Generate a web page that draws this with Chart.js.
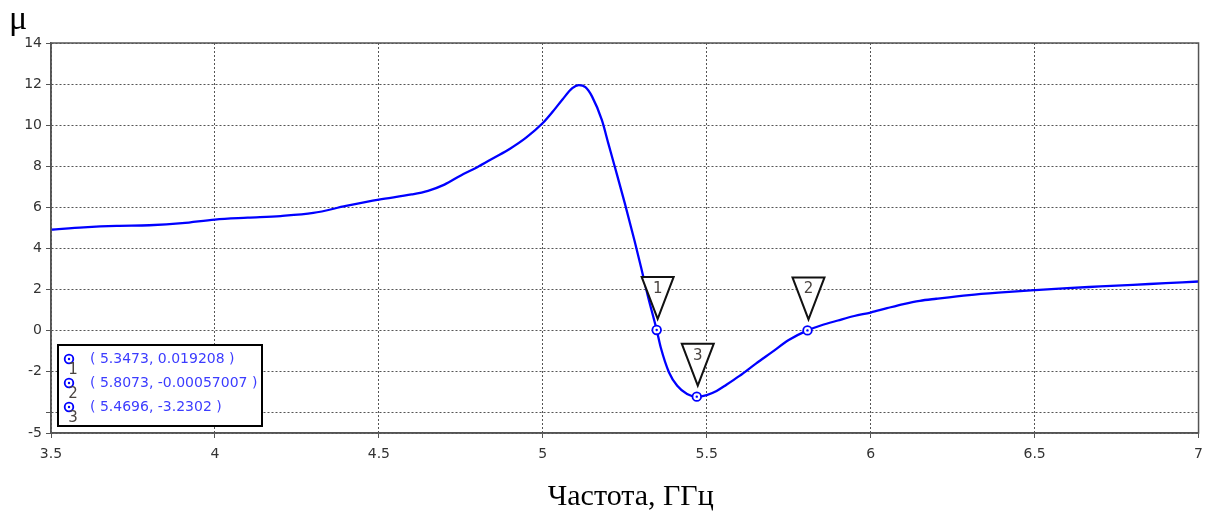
<!DOCTYPE html>
<html>
<head>
<meta charset="utf-8">
<script src="https://cdn.jsdelivr.net/npm/chart.js@4"></script>
<style>
  html, body { margin: 0; padding: 0; background: #fff; }
</style>
</head>
<body>
<canvas id="muChart" width="1211" height="515"></canvas>
<script>
// Данные кривой
const freq = [3.50, 3.60, 3.70, 3.80, 3.90, 4.00, 4.10, 4.20, 4.30, 4.40,
              4.50, 4.60, 4.65, 4.70, 4.75, 4.80, 4.85, 4.90, 4.95, 5.00,
              5.03, 5.06, 5.09, 5.11, 5.13, 5.15, 5.18, 5.20, 5.22, 5.25,
              5.28, 5.30, 5.32, 5.3473, 5.36, 5.385, 5.41, 5.44, 5.4696, 5.50,
              5.53, 5.56, 5.60, 5.65, 5.70, 5.75, 5.8073, 5.85, 5.90, 5.95,
              6.00, 6.05, 6.10, 6.15, 6.20, 6.30, 6.40, 6.50, 6.60, 6.70,
              6.80, 6.90, 7.00];
const mu = [4.91, 5.02, 5.09, 5.12, 5.22, 5.40, 5.49, 5.57, 5.72, 6.06,
            6.37, 6.62, 6.80, 7.10, 7.55, 7.95, 8.40, 8.85, 9.40, 10.10,
            10.65, 11.25, 11.80, 11.95, 11.85, 11.40, 10.25, 9.10, 7.95, 6.20,
            4.35, 3.05, 1.70, 0.019, -0.85, -2.05, -2.70, -3.10, -3.23, -3.15,
            -2.95, -2.65, -2.22, -1.62, -1.05, -0.47, 0.00, 0.25, 0.48, 0.70,
            0.87, 1.08, 1.28, 1.44, 1.54, 1.72, 1.85, 1.96, 2.06, 2.14,
            2.22, 2.30, 2.38];

// Маркеры
const markerFreq = [5.3473, 5.8073, 5.4696];
const markerMu = [0.019208, -0.00057007, -3.2302];
const markerNames = ["1", "2", "3"];
const markerLabels = ["( 5.3473, 0.019208 )", "( 5.8073, -0.00057007 )", "( 5.4696, -3.2302 )"];

// Оси
const xTicks = [3.5, 4, 4.5, 5, 5.5, 6, 6.5, 7];
const yTicks = [-5, -4, -2, 0, 2, 4, 6, 8, 10, 12, 14];
const yHidden = [-4];
const xTitle = "Частота, ГГц";
const yTitle = "μ";

const BLUE = "#0000ff";
const GRID = "#555";
const AXIS = "#555";

function markerIcon(ctx, x, y) {
    ctx.beginPath();
    ctx.arc(x, y, 4.3, 0, 2 * Math.PI);
    ctx.fillStyle = "#fff";
    ctx.fill();
    ctx.lineWidth = 1.8;
    ctx.strokeStyle = BLUE;
    ctx.stroke();
    ctx.beginPath();
    ctx.arc(x, y, 1.2, 0, 2 * Math.PI);
    ctx.fillStyle = BLUE;
    ctx.fill();
}

const markerPlugin = {
    id: "markers",
    afterDatasetsDraw(chart) {
        const ctx = chart.ctx;
        const xs = chart.scales.x, ys = chart.scales.y;
        const a = chart.chartArea;
        ctx.save();

        // рамка
        ctx.strokeStyle = AXIS;
        ctx.lineWidth = 1.5;
        ctx.strokeRect(a.left, a.top, a.right - a.left, a.bottom - a.top);

        // треугольники маркеров
        markerFreq.forEach((f, i) => {
            const px = xs.getPixelForValue(f);
            const py = ys.getPixelForValue(markerMu[i]);
            markerIcon(ctx, px, py);
            ctx.beginPath();
            ctx.moveTo(px - 15, py - 53);
            ctx.lineTo(px + 17, py - 53);
            ctx.lineTo(px + 1, py - 11);
            ctx.closePath();
            ctx.fillStyle = "#fff";
            ctx.fill();
            ctx.lineWidth = 2;
            ctx.strokeStyle = "#111";
            ctx.stroke();
            ctx.fillStyle = "#4a4440";
            ctx.font = '15px "DejaVu Sans"';
            ctx.textAlign = "center";
            ctx.textBaseline = "middle";
            ctx.fillText(markerNames[i], px + 1, py - 41);
        });

        // таблица маркеров
        const bx = a.left + 7, bw = 204, bh = 81, by = a.bottom - 7 - bh;
        ctx.fillStyle = "#fff";
        ctx.fillRect(bx, by, bw, bh);
        ctx.lineWidth = 2;
        ctx.strokeStyle = "#000";
        ctx.strokeRect(bx, by, bw, bh);
        markerLabels.forEach((txt, i) => {
            const ry = by + 14 + i * 24;
            markerIcon(ctx, bx + 11, ry);
            ctx.font = '15px "DejaVu Sans"';
            ctx.textBaseline = "middle";
            ctx.textAlign = "center";
            ctx.fillStyle = "#4a4440";
            ctx.fillText(markerNames[i], bx + 15, ry + 11);
            ctx.font = '14px "DejaVu Sans"';
            ctx.textAlign = "left";
            ctx.fillStyle = "#3c3cff";
            ctx.fillText(txt, bx + 32, ry);
        });
        ctx.restore();
    },
    afterDraw(chart) {
        const ctx = chart.ctx;
        const a = chart.chartArea;
        ctx.save();
        ctx.fillStyle = "#000";
        ctx.textAlign = "center";
        ctx.textBaseline = "middle";
        ctx.font = '30px "Liberation Serif"';
        ctx.fillText(xTitle, (a.left + a.right) / 2 + 6, 497);
        ctx.font = '34px "Liberation Serif"';
        ctx.fillText(yTitle, 18, 20);
        ctx.restore();
    }
};

new Chart(document.getElementById("muChart"), {
    type: "line",
    data: {
        datasets: [{
            label: "markers",
            data: markerFreq.map((f, i) => ({ x: f, y: markerMu[i] })),
            showLine: false,
            pointRadius: 0
        }, {
            label: "mu",
            data: freq.map((f, i) => ({ x: f, y: mu[i] })),
            borderColor: BLUE,
            borderWidth: 2.3,
            pointRadius: 0,
            cubicInterpolationMode: "monotone",
            fill: false
        }]
    },
    options: {
        responsive: false,
        animation: false,
        layout: { autoPadding: false, padding: { top: 43, right: 11, left: 0, bottom: 0 } },
        plugins: {
            legend: { display: false },
            tooltip: { enabled: false }
        },
        scales: {
            x: {
                type: "linear",
                min: 3.5,
                max: 7,
                afterBuildTicks: scale => { scale.ticks = xTicks.map(v => ({ value: v })); },
                afterFit: scale => { scale.height = 82; },
                ticks: {
                    autoSkip: false,
                    maxRotation: 0,
                    padding: 8,
                    color: "#333",
                    font: { family: "DejaVu Sans", size: 14 },
                    callback: v => String(v)
                },
                grid: { color: GRID, lineWidth: 1, tickLength: 5, tickColor: AXIS },
                border: { display: true, color: AXIS, width: 1.5, dash: [2, 2] }
            },
            y: {
                type: "linear",
                min: -5,
                max: 14,
                afterBuildTicks: scale => { scale.ticks = yTicks.map(v => ({ value: v })); },
                afterFit: scale => { scale.width = 51; },
                ticks: {
                    autoSkip: false,
                    padding: 4,
                    color: "#333",
                    font: { family: "DejaVu Sans", size: 14 },
                    callback: v => yHidden.includes(v) ? "" : String(v)
                },
                grid: { color: GRID, lineWidth: 1, tickLength: 5, tickColor: AXIS },
                border: { display: true, color: AXIS, width: 1.5, dash: [2, 2] }
            }
        }
    },
    plugins: [markerPlugin]
});
</script>
</body>
</html>
